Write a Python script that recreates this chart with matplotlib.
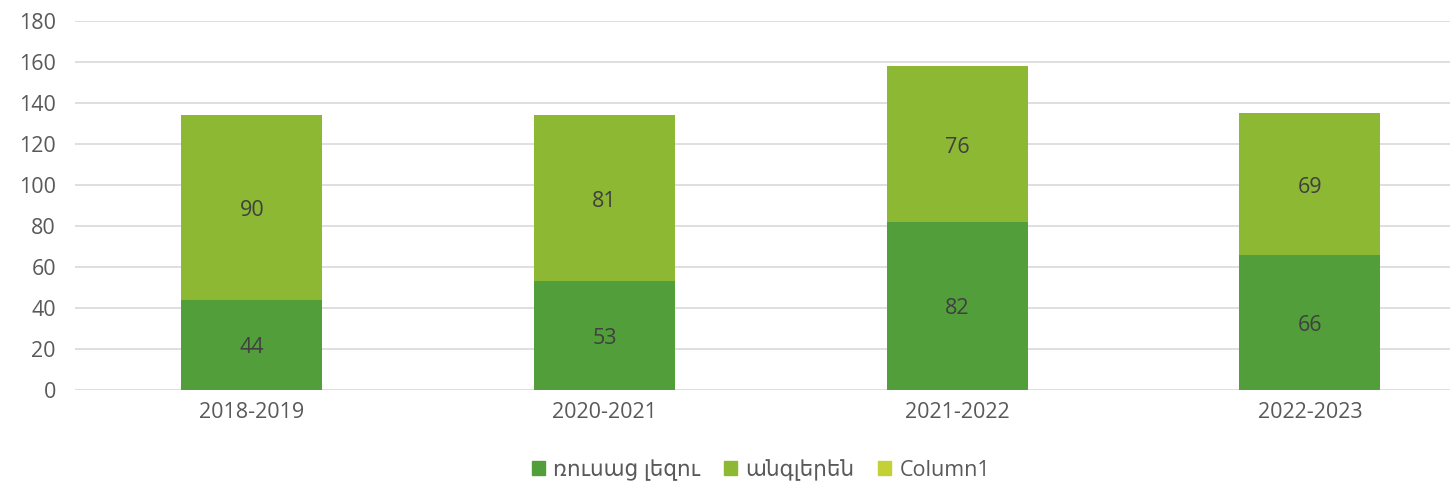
import matplotlib.pyplot as plt
from matplotlib.patches import Patch

plt.rcParams['font.family'] = ['Open Sans', 'DejaVu Sans']

years = ['2018-2019', '2020-2021', '2021-2022', '2022-2023']
russian = [44, 53, 82, 66]
english = [90, 81, 76, 69]
series_names = ['ռուսաց լեզու', 'անգլերեն', 'Column1']

c_rus = '#529E3A'
c_eng = '#8CB834'
c_col1 = '#C3D137'
text_col = '#595959'
fs = 15.5

fig = plt.figure(figsize=(14.5, 4.88), dpi=100)
ax = fig.add_axes([0.052, 0.201, 0.973, 0.756])

x = list(range(len(years)))
w = 0.4
ax.bar(x, russian, w, color=c_rus, zorder=3)
ax.bar(x, english, w, bottom=russian, color=c_eng, zorder=3)

for i in x:
    ax.text(i, russian[i] / 2 - 1.5, str(russian[i]), ha='center', va='center',
            fontsize=fs, color='#404040', zorder=4)
    ax.text(i, russian[i] + english[i] / 2 - 1.5, str(english[i]), ha='center', va='center',
            fontsize=fs, color='#404040', zorder=4)

ax.set_ylim(0, 180)
ax.set_yticks(range(0, 181, 20))
ax.set_xlim(-0.5, 3.5)
ax.set_xticks(x)
ax.set_xticklabels(years)
ax.grid(axis='y', color='#D9D9D9', linewidth=1.2, zorder=0)
for s in ax.spines.values():
    s.set_visible(False)
ax.tick_params(length=0, labelsize=fs, labelcolor=text_col)
ax.tick_params(axis='x', pad=9)
ax.tick_params(axis='y', pad=14)

# Column1 has no values in the source, only a legend entry
handles = [Patch(color=c_rus), Patch(color=c_eng), Patch(color=c_col1)]
fig.legend(handles, series_names, loc='center', bbox_to_anchor=(0.525, 0.037),
           ncol=3, frameon=False, fontsize=fs, labelcolor=text_col,
           handlelength=0.6, handleheight=0.6, handletextpad=0.4, columnspacing=1.1)

fig.savefig('out.png', dpi=100)
